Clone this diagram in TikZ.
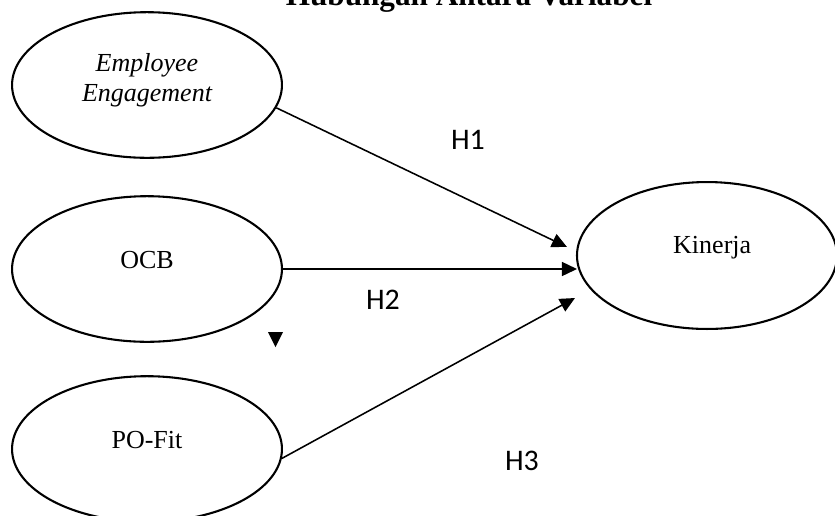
\documentclass[tikz,border=0pt]{standalone}
\usepackage{fontspec}
\setmainfont{Liberation Serif}
\newfontfamily\hfont{Carlito}
\usetikzlibrary{shapes.geometric,arrows.meta}
\begin{document}
\begin{tikzpicture}[x=0.3846pt, y=-0.3846pt,
  var/.style={ellipse, draw, line width=0.8pt, inner sep=0pt, minimum width=103.8pt, minimum height=56pt},
  vtext/.style={font=\fontsize{10}{11.5}\selectfont, align=center},
  hyp/.style={font=\hfont\fontsize{11.5}{13}\selectfont},
  arr/.style={line width=0.6pt, -{Triangle[length=5.8pt,width=5.4pt]}}]
\clip (0,0) rectangle (835,515);
\node[font=\bfseries\fontsize{12}{14}\selectfont, anchor=base] (title) at (469,5) {Hubungan Antara Variabel};
\node[var] (ee) at (147,85) {};
\node[vtext, font=\fontsize{10}{11.5}\selectfont\itshape] (eetxt) at ([yshift=2pt]ee.center) {Employee\\Engagement};
\node[var] (ocb) at (147,269) {};
\node[vtext] (ocbtxt) at ([yshift=3.5pt]ocb.center) {OCB};
\node[var] (po) at (147,449) {};
\node[vtext] (potxt) at ([yshift=3.5pt]po.center) {PO-Fit};
\node[var, minimum width=100pt, minimum height=56.5pt] (kin) at (707,255.5) {};
\node[vtext] (kintxt) at ([xshift=2pt,yshift=3pt]kin.center) {Kinerja};
\coordinate (t1) at (567,247);
\coordinate (t2) at (577,269);
\coordinate (t3) at (575,298);
\draw[arr] (ee.-10) -- (t1);
\draw[arr] (ocb.east) -- (t2);
\draw[arr] (po.-4) -- (t3);
\fill (268,332) -- (283,332) -- (275.5,347) -- cycle;
\node[hyp] (h1) at (468,140) {H1};
\node[hyp] (h2) at (383,300) {H2};
\node[hyp] (h3) at (522,461) {H3};
\end{tikzpicture}
\end{document}
